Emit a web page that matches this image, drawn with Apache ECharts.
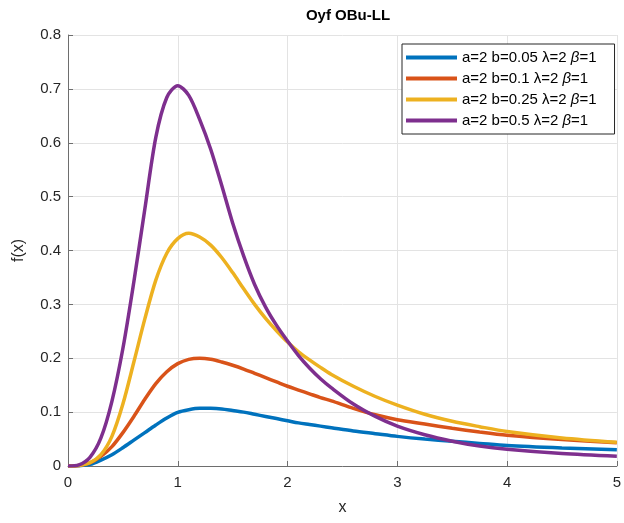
<!DOCTYPE html>
<html>
<head>
<meta charset="utf-8">
<script src="https://cdn.jsdelivr.net/npm/echarts@6/dist/echarts.min.js"></script>
<style>html,body{margin:0;padding:0;background:#fff}#c{width:624px;height:523px}</style>
</head>
<body>
<div id="c"></div>
<script>
const titleText = 'Oyf OBu-LL';
const xName = 'x';
const yName = 'f(x)';
const seriesNames = ['a=2 b=0.05 λ=2 β=1', 'a=2 b=0.1 λ=2 β=1', 'a=2 b=0.25 λ=2 β=1', 'a=2 b=0.5 λ=2 β=1'];
const colors = ['#0072BD', '#D95319', '#EDB120', '#7E2F8E'];
const xs = [0, 0.1, 0.2, 0.3, 0.4, 0.5, 0.6, 0.7, 0.8, 0.9, 1.0, 1.1, 1.2, 1.3, 1.4, 1.5, 1.6,
            1.7, 1.8, 1.9, 2.0, 2.1, 2.2, 2.3, 2.4,
            2.6, 2.8, 3.0, 3.25, 3.5, 3.75, 4.0, 4.5, 5.0];
const yB005 = [0, 0.0005, 0.003, 0.011, 0.021, 0.034, 0.048, 0.062, 0.076, 0.089, 0.0995, 0.1045, 0.107, 0.107, 0.106, 0.103, 0.100,
               0.096, 0.092, 0.088, 0.084, 0.080, 0.077, 0.074, 0.071,
               0.065, 0.060, 0.055, 0.050, 0.046, 0.042, 0.038, 0.0335, 0.030];
const yB01 = [0, 0.001, 0.006, 0.018, 0.036, 0.062, 0.092, 0.124, 0.153, 0.175, 0.190, 0.198, 0.200, 0.198, 0.193, 0.187, 0.180,
              0.172, 0.164, 0.156, 0.148, 0.141, 0.134, 0.127, 0.121,
              0.107, 0.095, 0.086, 0.078, 0.070, 0.063, 0.057, 0.049, 0.043];
const yB025 = [0, 0.001, 0.006, 0.021, 0.055, 0.115, 0.193, 0.273, 0.345, 0.395, 0.422, 0.432, 0.425, 0.410, 0.387, 0.359, 0.329,
               0.300, 0.274, 0.251, 0.230, 0.212, 0.197, 0.183, 0.170,
               0.148, 0.129, 0.113, 0.096, 0.083, 0.073, 0.064, 0.052, 0.044];
const yB05 = [0, 0.002, 0.016, 0.052, 0.120, 0.218, 0.342, 0.477, 0.610, 0.684, 0.706, 0.688, 0.643, 0.588, 0.521, 0.451, 0.390,
              0.337, 0.295, 0.261, 0.232, 0.205, 0.182, 0.162, 0.145,
              0.115, 0.092, 0.074, 0.058, 0.046, 0.037, 0.031, 0.023, 0.018];
const yTicks = [0, 0.1, 0.2, 0.3, 0.4, 0.5, 0.6, 0.7, 0.8];
const xTicks = [0, 1, 2, 3, 4, 5];

const allY = [yB005, yB01, yB025, yB05];
const font = '"Liberation Sans", Arial, sans-serif';
const chart = echarts.init(document.getElementById('c'), null, {renderer: 'canvas'});
chart.setOption({
  animation: false,
  backgroundColor: '#fff',
  title: {text: titleText, left: 343, textAlign: 'center', top: 3,
    textStyle: {fontFamily: font, fontSize: 15, fontWeight: 'bold', color: '#000'}},
  grid: {left: 68, right: 5, top: 35, bottom: 57},
  legend: {
    orient: 'vertical', left: 402, top: 44,
    padding: [5, 18, 5, 4], itemGap: 4,
    backgroundColor: '#fff', borderColor: '#262626', borderWidth: 1,
    icon: 'rect', itemWidth: 51, itemHeight: 4,
    data: seriesNames,
    formatter: function (n) { return n.replace('β', '{it|β}'); },
    textStyle: {fontFamily: font, fontSize: 15, color: '#000', lineHeight: 17,
      rich: {it: {fontStyle: 'italic', fontFamily: font, fontSize: 15}}}
  },
  xAxis: {
    type: 'value', min: xTicks[0], max: xTicks[xTicks.length - 1], interval: 1,
    name: xName, nameLocation: 'middle', nameGap: 34,
    nameTextStyle: {fontFamily: font, fontSize: 16, color: '#262626'},
    axisLine: {lineStyle: {color: '#6e6e6e', width: 1}},
    axisTick: {inside: true, length: 5, lineStyle: {color: '#6e6e6e'}},
    axisLabel: {fontFamily: font, fontSize: 15, color: '#262626', margin: 9},
    splitLine: {show: true, lineStyle: {color: '#e3e3e3', width: 1}}
  },
  yAxis: {
    type: 'value', min: yTicks[0], max: yTicks[yTicks.length - 1], interval: 0.1,
    name: yName, nameLocation: 'middle', nameGap: 41, nameRotate: 90,
    nameTextStyle: {fontFamily: font, fontSize: 16, color: '#262626'},
    axisLine: {show: true, lineStyle: {color: '#6e6e6e', width: 1}},
    axisTick: {show: true, inside: true, length: 5, lineStyle: {color: '#6e6e6e'}},
    axisLabel: {fontFamily: font, fontSize: 15, color: '#262626', margin: 7},
    splitLine: {show: true, lineStyle: {color: '#e3e3e3', width: 1}}
  },
  series: seriesNames.map(function (n, i) {
    return {
      name: n, type: 'line', showSymbol: false, symbol: 'none',
      smooth: 0.3,
      data: xs.map(function (x, j) { return [x, allY[i][j]]; }),
      lineStyle: {color: colors[i], width: 3.5},
      itemStyle: {color: colors[i]},
      clip: true
    };
  })
});
</script>
</body>
</html>
